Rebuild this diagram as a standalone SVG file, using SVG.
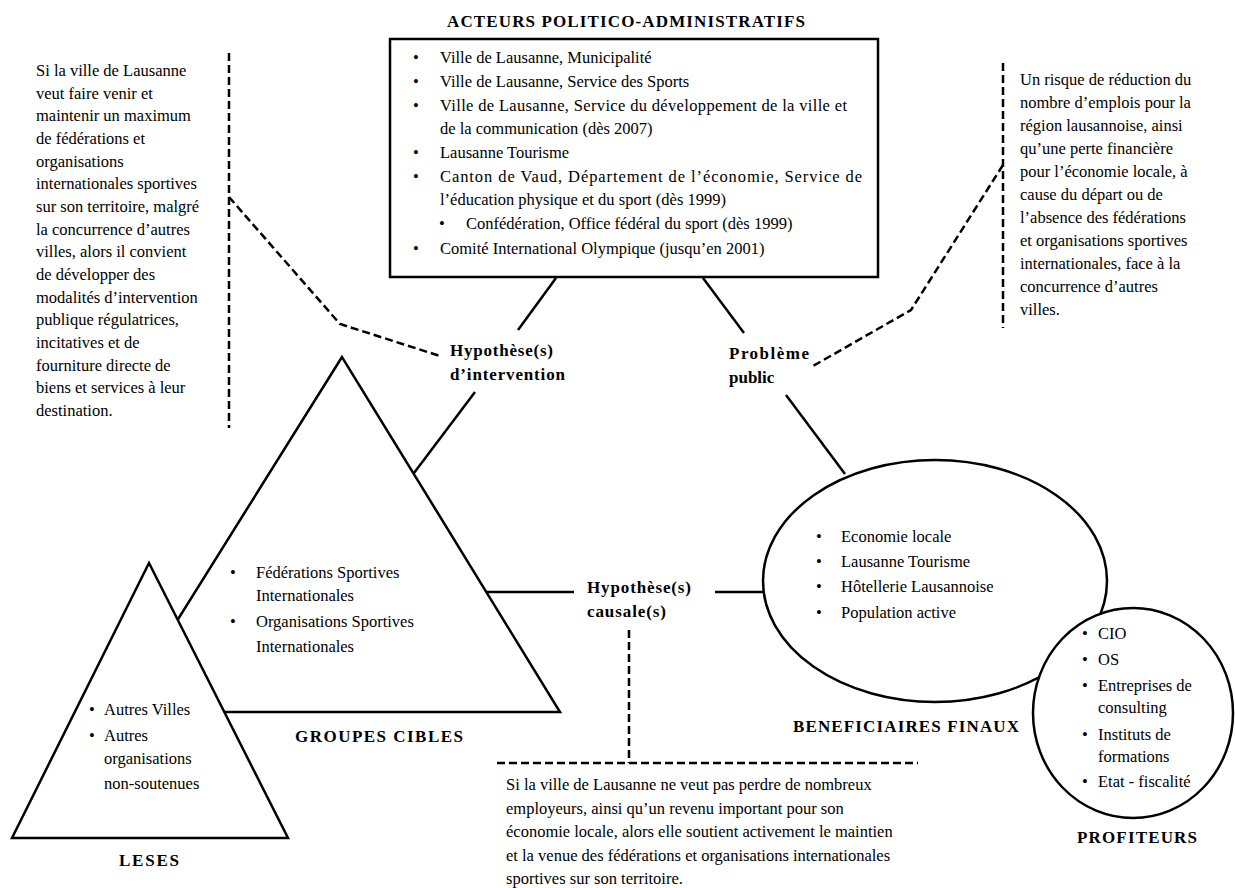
<svg xmlns="http://www.w3.org/2000/svg" width="1235" height="888" viewBox="0 0 1235 888">
<style>
text{font-family:"Liberation Serif","Times New Roman",serif;fill:#000}
.t{font-size:16.5px}
.b{font-size:17px;font-weight:bold}
.shape{fill:#fff;stroke:#000;stroke-width:2.5}
.ln{stroke:#000;stroke-width:2.5;fill:none}
.dash{stroke:#000;stroke-width:2.5;fill:none;stroke-dasharray:8 4}
</style>
<rect width="1235" height="888" fill="#fff"/>

<g id="connectors">
<line class="ln" x1="556" y1="278" x2="518" y2="330"/>
<line class="ln" x1="703" y1="278" x2="744" y2="333"/>
<line class="ln" x1="475" y1="392" x2="414" y2="473"/>
<line class="ln" x1="786" y1="395" x2="845" y2="474"/>
<line class="ln" x1="487" y1="592" x2="574" y2="592"/>
<line class="ln" x1="715" y1="592" x2="764" y2="592"/>
<line class="dash" x1="229" y1="53" x2="229" y2="428"/>
<polyline class="dash" points="229,197 340,324 440,356"/>
<line class="dash" x1="1003" y1="63" x2="1003" y2="328"/>
<polyline class="dash" points="1003,165 911,310 813,366"/>
<line class="dash" x1="629" y1="630" x2="629" y2="763"/>
<line class="dash" x1="497" y1="763" x2="918" y2="763"/>
</g>

<g id="acteurs">
<text class="b" x="447" y="27" textLength="358" lengthAdjust="spacing">ACTEURS POLITICO-ADMINISTRATIFS</text>
<rect class="shape" x="390" y="39" width="488" height="238"/>
<g class="t">
<text x="413" y="63">•</text><text x="440" y="63">Ville de Lausanne, Municipalité</text>
<text x="413" y="87">•</text><text x="440" y="87">Ville de Lausanne, Service des Sports</text>
<text x="413" y="111">•</text><text x="440" y="111" textLength="407" lengthAdjust="spacing">Ville de Lausanne, Service du développement de la ville et</text>
<text x="440" y="134">de la communication (dès 2007)</text>
<text x="413" y="158">•</text><text x="440" y="158">Lausanne Tourisme</text>
<text x="413" y="182">•</text><text x="440" y="182" textLength="422" lengthAdjust="spacing">Canton de Vaud, Département de l’économie, Service de</text>
<text x="440" y="205">l’éducation physique et du sport (dès 1999)</text>
<text x="439" y="229">•</text><text x="466" y="229">Confédération, Office fédéral du sport (dès 1999)</text>
<text x="413" y="254">•</text><text x="440" y="254">Comité International Olympique (jusqu’en 2001)</text>
</g>
</g>

<g id="hyp-intervention">
<text class="b" x="450" y="356" textLength="103" lengthAdjust="spacing">Hypothèse(s)</text>
<text class="b" x="450" y="380" textLength="115" lengthAdjust="spacing">d’intervention</text>
</g>

<g id="probleme-public">
<text class="b" x="729" y="359" textLength="80" lengthAdjust="spacing">Problème</text>
<text class="b" x="729" y="383">public</text>
</g>

<g id="hyp-causale">
<text class="b" x="587" y="593" textLength="104" lengthAdjust="spacing">Hypothèse(s)</text>
<text class="b" x="587" y="617" textLength="79" lengthAdjust="spacing">causale(s)</text>
</g>

<g id="texte-intervention" class="t">
<text x="36" y="76">Si la ville de Lausanne</text>
<text x="36" y="98.7">veut faire venir et</text>
<text x="36" y="121.3">maintenir un maximum</text>
<text x="36" y="144">de fédérations et</text>
<text x="36" y="166.7">organisations</text>
<text x="36" y="189.3">internationales sportives</text>
<text x="36" y="212">sur son territoire, malgré</text>
<text x="36" y="234.7">la concurrence d’autres</text>
<text x="36" y="257.3">villes, alors il convient</text>
<text x="36" y="280">de développer des</text>
<text x="36" y="302.7">modalités d’intervention</text>
<text x="36" y="325.3">publique régulatrices,</text>
<text x="36" y="348">incitatives et de</text>
<text x="36" y="370.7">fourniture directe de</text>
<text x="36" y="393.3">biens et services à leur</text>
<text x="36" y="416">destination.</text>
</g>

<g id="texte-probleme" class="t">
<text x="1020" y="85">Un risque de réduction du</text>
<text x="1020" y="108">nombre d’emplois pour la</text>
<text x="1020" y="131">région lausannoise, ainsi</text>
<text x="1020" y="154">qu’une perte financière</text>
<text x="1020" y="177">pour l’économie locale, à</text>
<text x="1020" y="200">cause du départ ou de</text>
<text x="1020" y="223">l’absence des fédérations</text>
<text x="1020" y="246">et organisations sportives</text>
<text x="1020" y="269">internationales, face à la</text>
<text x="1020" y="292">concurrence d’autres</text>
<text x="1020" y="315">villes.</text>
</g>

<g id="texte-causale" class="t">
<text x="506" y="790">Si la ville de Lausanne ne veut pas perdre de nombreux</text>
<text x="506" y="813.5">employeurs, ainsi qu’un revenu important pour son</text>
<text x="506" y="837">économie locale, alors elle soutient activement le maintien</text>
<text x="506" y="860.5">et la venue des fédérations et organisations internationales</text>
<text x="506" y="884">sportives sur son territoire.</text>
</g>

<g id="groupes-cibles">
<polygon class="shape" points="342,357 120,712 560,712"/>
<g class="t">
<text x="230" y="578">•</text><text x="256" y="578">Fédérations Sportives</text>
<text x="256" y="601">Internationales</text>
<text x="230" y="627">•</text><text x="256" y="627">Organisations Sportives</text>
<text x="256" y="652">Internationales</text>
</g>
<text class="b" x="295" y="742" textLength="168" lengthAdjust="spacing">GROUPES CIBLES</text>
</g>

<g id="leses">
<polygon class="shape" points="149,563 12,838 288,838"/>
<g class="t">
<text x="89" y="715">•</text><text x="104" y="715">Autres Villes</text>
<text x="89" y="741">•</text><text x="104" y="741">Autres</text>
<text x="104" y="764">organisations</text>
<text x="104" y="789">non-soutenues</text>
</g>
<text class="b" x="119" y="866" textLength="60" lengthAdjust="spacing">LESES</text>
</g>

<g id="beneficiaires">
<ellipse class="shape" cx="935" cy="581" rx="172" ry="121"/>
<g class="t">
<text x="816" y="542">•</text><text x="841" y="542">Economie locale</text>
<text x="816" y="567">•</text><text x="841" y="567">Lausanne Tourisme</text>
<text x="816" y="592">•</text><text x="841" y="592">Hôtellerie Lausannoise</text>
<text x="816" y="618">•</text><text x="841" y="618">Population active</text>
</g>
<text class="b" x="793" y="732" textLength="226" lengthAdjust="spacing">BENEFICIAIRES FINAUX</text>
</g>

<g id="profiteurs">
<ellipse class="shape" cx="1133" cy="713" rx="100" ry="105"/>
<g class="t">
<text x="1082" y="639">•</text><text x="1098" y="639">CIO</text>
<text x="1082" y="665">•</text><text x="1098" y="665">OS</text>
<text x="1082" y="691">•</text><text x="1098" y="691">Entreprises de</text>
<text x="1098" y="713">consulting</text>
<text x="1082" y="740">•</text><text x="1098" y="740">Instituts de</text>
<text x="1098" y="762">formations</text>
<text x="1082" y="787">•</text><text x="1098" y="787">Etat - fiscalité</text>
</g>
<text class="b" x="1077" y="843" textLength="120" lengthAdjust="spacing">PROFITEURS</text>
</g>
</svg>
